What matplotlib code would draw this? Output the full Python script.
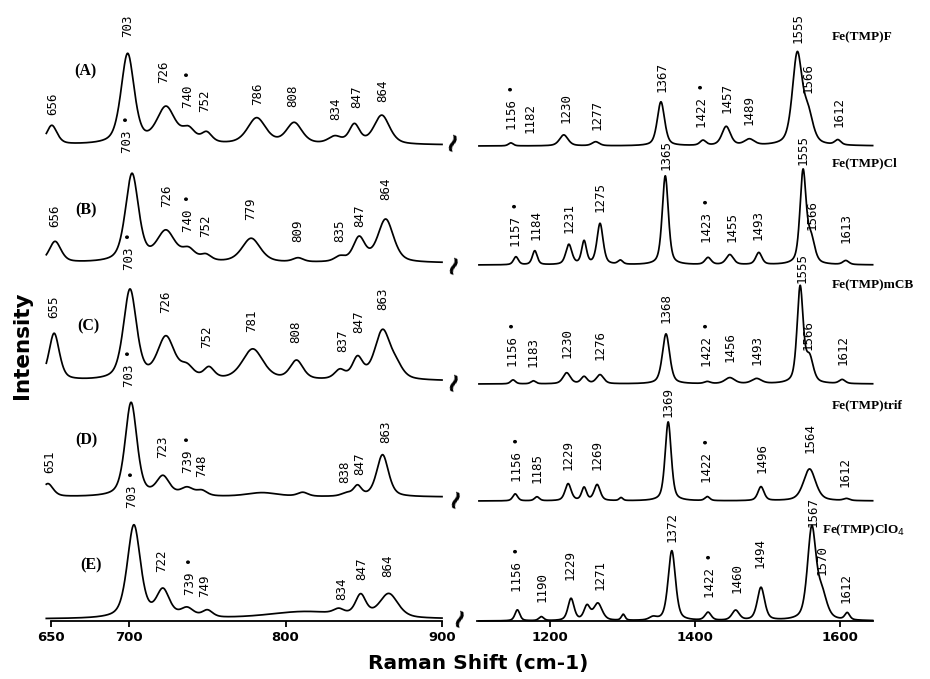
import numpy as np
import matplotlib
matplotlib.use('Agg')
import matplotlib.pyplot as plt

# band tables: (centre cm-1, height, half width cm-1)
A_LOW = [(650.5, 19, 4), (699.0, 90, 5), (723.5, 36, 7), (738, 13, 5), (749.5, 10, 4),
         (781.5, 26, 7), (805.5, 21, 6), (831.5, 7, 5), (844, 19, 4), (861.5, 29, 6)]
B_LOW = [(652.6, 21, 4.5), (701.8, 88, 5), (723.5, 30, 7), (738, 11, 5), (749, 6, 4),
         (778, 24, 7), (808, 4, 4), (834.7, 5, 4), (847, 24, 4.5), (864, 43, 6)]
C_LOW = [(652, 47, 4), (700.5, 90, 5), (723.5, 42, 6.5), (737, 11, 5), (751, 11, 4),
         (779, 31, 8), (807, 19, 5), (834.7, 9, 4), (846, 21, 4), (862, 49, 6), (871, 10, 5)]
D_LOW = [(648, 13, 4), (701.2, 94, 4.5), (721.6, 19, 5), (737, 8, 5), (746.5, 5, 4),
         (785, 4, 12), (811, 4, 4), (839, 3, 4), (846, 10, 3), (862, 42, 4.5)]
E_LOW = [(703, 93, 5), (721.6, 27, 5), (737, 9, 5), (750, 7, 4), (812, 7, 28),
         (834, 5, 4), (848, 21, 4), (866, 24, 7)]

A_HIGH = [(1146, 3, 4), (1219, 11, 7), (1263, 4, 6), (1353, 44, 6), (1411, 5, 5),
          (1443, 19, 7), (1475, 6, 8), (1541, 90, 8), (1556, 28, 8), (1597, 5, 5)]
B_HIGH = [(1153, 8, 4), (1179, 14, 4), (1226, 20, 5), (1247, 23, 4), (1269, 41, 5),
          (1297, 4, 4), (1359, 89, 5), (1418, 7, 5), (1448, 10, 6), (1488, 12, 5),
          (1549, 92, 5), (1560, 24, 6), (1608, 4, 5)]
C_HIGH = [(1149, 4, 4), (1177, 3, 4), (1223, 11, 6), (1247, 7, 5), (1269, 9, 6),
          (1360, 50, 6), (1417, 2, 5), (1448, 6, 8), (1485, 5, 8), (1545, 96, 5),
          (1558, 24, 6), (1603, 4, 5)]
D_HIGH = [(1152, 7, 4), (1182, 4, 4), (1225, 17, 5), (1247, 13, 4), (1265, 16, 5),
          (1298, 3, 3), (1363, 79, 5), (1417, 4, 4), (1491, 14, 5), (1558, 32, 10),
          (1609, 2, 5)]
E_HIGH = [(1155, 11, 4), (1188, 4, 4), (1229, 22, 5), (1251, 14, 5), (1266, 17, 7),
          (1301, 6, 3), (1342, 3, 6), (1368, 70, 6), (1418, 8, 5), (1456, 10, 6),
          (1491, 33, 6), (1561, 91, 7), (1575, 24, 8), (1610, 7, 4)]

LOW_BANDS = [A_LOW, B_LOW, C_LOW, D_LOW, E_LOW]
HIGH_BANDS = [A_HIGH, B_HIGH, C_HIGH, D_HIGH, E_HIGH]

# peak annotations: (text, position cm-1)
A_LOW_LABELS = [("656", 651.3), ("703", 699.2), ("726", 722.3), ("740 •", 737.6), ("752", 748.5),
                ("786", 782.4), ("808", 804.7), ("834", 832.2), ("847", 845.7), ("864", 862.3)]
B_LOW_LABELS = [("656", 652.6), ("703 •", 699.2), ("726", 724.2), ("740 •", 737.6), ("752", 749.1),
                ("779", 777.9), ("809", 807.9), ("835", 834.8), ("847", 847.6), ("864", 864.2)]
C_LOW_LABELS = [("655", 651.9), ("703 •", 699.9), ("726", 723.5), ("752", 749.7), ("781", 778.5),
                ("808", 806.6), ("837", 836.7), ("847", 847.0), ("863", 862.3)]
D_LOW_LABELS = [("651", 649.4), ("703 •", 700.5), ("723", 721.6), ("739 •", 737.6), ("748", 746.5),
                ("838", 838.0), ("847", 847.6), ("863", 864.2)]
E_LOW_LABELS = [("703 •", 701.8), ("722", 721.0), ("739 •", 738.9), ("749", 748.5),
                ("834", 836.1), ("847", 848.9), ("864", 865.5)]

A_HIGH_LABELS = [("1156 •", 1147.6), ("1182", 1172.4), ("1230", 1222.0), ("1277", 1264.8),
                 ("1367", 1354.5), ("1422 •", 1411.0), ("1457", 1444.1), ("1489", 1474.5),
                 ("1555", 1542.1), ("1566", 1555.9), ("1612", 1598.6)]
B_HIGH_LABELS = [("1157 •", 1153.1), ("1184", 1180.7), ("1231", 1226.2), ("1275", 1269.0),
                 ("1365", 1360.0), ("1423 •", 1417.9), ("1455", 1451.0), ("1493", 1486.9),
                 ("1555", 1549.0), ("1566", 1561.0), ("1613", 1608.3)]
C_HIGH_LABELS = [("1156 •", 1149.0), ("1183", 1176.6), ("1230", 1223.4), ("1276", 1269.0),
                 ("1368", 1360.0), ("1422 •", 1416.6), ("1456", 1448.3), ("1493", 1485.5),
                 ("1555", 1547.6), ("1566", 1555.9), ("1612", 1604.1)]
D_HIGH_LABELS = [("1156 •", 1154.5), ("1185", 1182.1), ("1229", 1224.8), ("1269", 1264.8),
                 ("1369", 1362.8), ("1422 •", 1416.6), ("1496", 1492.4), ("1564", 1558.6),
                 ("1612", 1606.9)]
E_HIGH_LABELS = [("1156 •", 1154.5), ("1190", 1189.0), ("1229", 1227.6), ("1271", 1269.0),
                 ("1372", 1368.3), ("1422 •", 1420.7), ("1460", 1457.9), ("1494", 1489.7),
                 ("1567", 1562.8), ("1570", 1575.2), ("1612", 1608.3)]

LOW_LABELS = [A_LOW_LABELS, B_LOW_LABELS, C_LOW_LABELS, D_LOW_LABELS, E_LOW_LABELS]
HIGH_LABELS = [A_HIGH_LABELS, B_HIGH_LABELS, C_HIGH_LABELS, D_HIGH_LABELS, E_HIGH_LABELS]

PANEL_TAGS = ["(A)", "(B)", "(C)", "(D)", "(E)"]
COMPOUNDS = ["Fe(TMP)F", "Fe(TMP)Cl", "Fe(TMP)mCB", "Fe(TMP)trif", "Fe(TMP)ClO$_4$"]

# layout (pixel rows of the 930x679 canvas, counted from the top)
H = 621.0
LOW_BASE = [145, 263, 381, 497, 619]
HIGH_BASE = [146, 265, 384, 501, 621]
LOW_LABEL_Y = [[115, 37, 83, 108, 112, 105, 107, 120, 108, 102],
               [227, 153, 207, 232, 237, 220, 242, 242, 227, 200],
               [318, 270, 313, 348, 332, 343, 352, 333, 310],
               [473, 387, 458, 473, 477, 483, 475, 443],
               [508, 572, 595, 597, 600, 580, 577]]
HIGH_LABEL_Y = [[130, 133, 123, 130, 92, 128, 113, 125, 43, 93, 127],
                [247, 240, 233, 212, 170, 243, 242, 240, 165, 230, 243],
                [367, 367, 358, 360, 323, 367, 362, 365, 283, 350, 365],
                [482, 483, 470, 470, 417, 483, 473, 453, 487],
                [592, 602, 580, 590, 542, 598, 593, 568, 527, 575, 603]]
TAG_XY = [(85, 71), (86, 210), (88, 326), (86, 440), (91, 565)]
COMPOUND_XY = [(832, 37), (832, 163), (832, 285), (832, 405), (822, 530)]
BREAK_XY = [(453, 141), (454, 264), (454, 381), (456, 498), (460, 617)]


def band_sum(x, bands):
    y = np.zeros_like(x)
    for c, h, w in bands:
        u = ((x - c) / w) ** 2
        y += h * (0.5 / (1 + u) + 0.5 * np.exp(-np.log(2) * u))
    return y


def style_axis(ax, xlim, ticks):
    ax.set_xlim(*xlim)
    ax.set_ylim(0, H)
    for side in ('left', 'right', 'top'):
        ax.spines[side].set_visible(False)
    ax.spines['bottom'].set_linewidth(1.3)
    ax.set_yticks([])
    ax.set_xticks(ticks)
    ax.tick_params(axis='x', direction='out', length=4, width=1.3, pad=3)
    for lab in ax.get_xticklabels():
        lab.set_fontweight('bold')
        lab.set_fontsize(9.5)


def main():
    fig = plt.figure(figsize=(9.3, 6.79), dpi=100)
    bottom = 58 / 679.0
    height = H / 679.0
    ax_lo = fig.add_axes([51 / 930.0, bottom, 391 / 930.0, height])
    ax_hi = fig.add_axes([477 / 930.0, bottom, 396 / 930.0, height])
    style_axis(ax_lo, (650, 900), [650, 700, 800, 900])
    style_axis(ax_hi, (1099.3, 1645.5), [1200, 1400, 1600])

    x_lo = np.linspace(647, 900, 1200)
    x_hi = np.linspace(1102, 1645, 2000)
    lbl = dict(rotation=90, ha='center', va='bottom', fontsize=9,
               family='DejaVu Sans Mono', color='black')

    for i in range(5):
        y_lo = H - LOW_BASE[i] + band_sum(x_lo, LOW_BANDS[i])
        y_hi = H - HIGH_BASE[i] + band_sum(x_hi, HIGH_BANDS[i])
        ax_lo.plot(x_lo, y_lo, color='black', lw=1.25, clip_on=False)
        ax_hi.plot(x_hi, y_hi, color='black', lw=1.25, clip_on=False)

        for (txt, pos), py in zip(LOW_LABELS[i], LOW_LABEL_Y[i]):
            ax_lo.text(pos, H - py, txt, **lbl)
        for (txt, pos), py in zip(HIGH_LABELS[i], HIGH_LABEL_Y[i]):
            ax_hi.text(pos, H - py, txt, **lbl)

        tx, ty = TAG_XY[i]
        fig.text(tx / 930.0, 1 - ty / 679.0, PANEL_TAGS[i], ha='center', va='center',
                 fontsize=11.5, fontweight='bold', family='Liberation Serif')
        cx, cy = COMPOUND_XY[i]
        fig.text(cx / 930.0, 1 - cy / 679.0, COMPOUNDS[i], ha='left', va='center',
                 fontsize=9.5, fontweight='bold', family='Liberation Serif')
        bx, by = BREAK_XY[i]
        fig.text(bx / 930.0, 1 - by / 679.0, '~', ha='center', va='center',
                 fontsize=19, rotation=70, fontweight='bold')

    fig.text(22 / 930.0, 1 - 345 / 679.0, 'Intensity', rotation=90, ha='center',
             va='center', fontsize=15.5, fontweight='heavy')
    fig.text(478 / 930.0, 1 - 663 / 679.0, 'Raman Shift (cm-1)', ha='center',
             va='center', fontsize=14.5, fontweight='heavy')

    fig.savefig('out.png', dpi=100)


if __name__ == '__main__':
    main()
